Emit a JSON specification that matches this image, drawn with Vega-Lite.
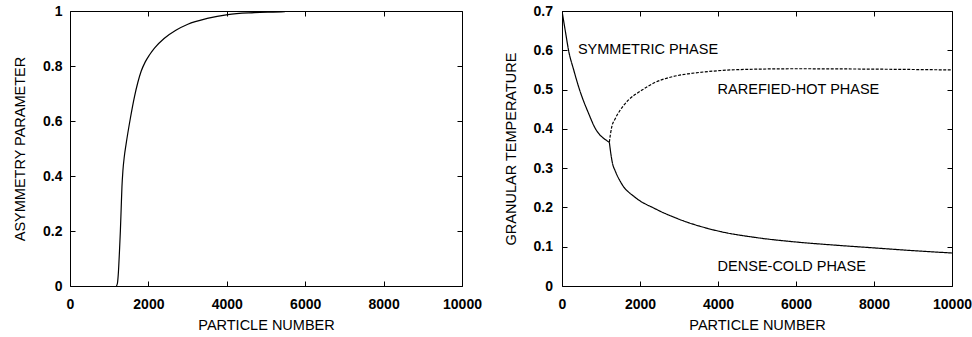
{
  "$schema": "https://vega.github.io/schema/vega-lite/v6.json",
  "padding": {"left": 12, "top": 4, "right": 0, "bottom": 0},
  "bounds": "flush",
  "spacing": 100,
  "background": "white",
  "config": {
    "view": {"stroke": null},
    "font": "Liberation Sans",
    "axis": {
      "grid": false,
      "domainColor": "black",
      "domainWidth": 1,
      "tickColor": "black",
      "tickSize": -5,
      "tickWidth": 1,
      "labelFont": "Liberation Sans",
      "labelFontSize": 14,
      "labelFontWeight": "bold",
      "labelColor": "black",
      "titleFont": "Liberation Sans",
      "titleFontSize": 14.5,
      "titleFontWeight": "normal",
      "titleColor": "black",
      "labelOverlap": false,
      "labelFlush": false,
      "labelBound": false
    }
  },
  "hconcat": [
    {
      "width": 392,
      "height": 275,
      "data": {"values": [
        {"n": 1183, "a": 0},
        {"n": 1210, "a": 0.01},
        {"n": 1235, "a": 0.05},
        {"n": 1260, "a": 0.12},
        {"n": 1285, "a": 0.2},
        {"n": 1305, "a": 0.28},
        {"n": 1325, "a": 0.36},
        {"n": 1350, "a": 0.42},
        {"n": 1385, "a": 0.47},
        {"n": 1430, "a": 0.515},
        {"n": 1540, "a": 0.61},
        {"n": 1644, "a": 0.688},
        {"n": 1730, "a": 0.74},
        {"n": 1813, "a": 0.78},
        {"n": 1920, "a": 0.815},
        {"n": 2026, "a": 0.84},
        {"n": 2155, "a": 0.865},
        {"n": 2400, "a": 0.9},
        {"n": 2700, "a": 0.93},
        {"n": 3006, "a": 0.952},
        {"n": 3500, "a": 0.973},
        {"n": 4026, "a": 0.987},
        {"n": 4700, "a": 0.994},
        {"n": 5470, "a": 0.998},
        {"n": 5600, "a": 1.0}
      ]},
      "layer": [
        {
          "mark": {"type": "line", "color": "black", "strokeWidth": 1.2, "clip": true, "interpolate": "monotone"},
          "encoding": {
            "x": {"field": "n", "type": "quantitative",
                  "scale": {"domain": [0, 10000], "nice": false, "zero": false},
                  "axis": {"orient": "bottom", "values": [0, 2000, 4000, 6000, 8000, 10000], "format": "d",
                           "labelPadding": 16, "title": "PARTICLE NUMBER", "titlePadding": 7}},
            "y": {"field": "a", "type": "quantitative",
                  "scale": {"domain": [0, 1], "nice": false},
                  "axis": {"orient": "left", "values": [0, 0.2, 0.4, 0.6, 0.8, 1], "format": "~g",
                           "labelPadding": 13, "title": "ASYMMETRY PARAMETER", "titlePadding": 15}}
          }
        },
        {
          "mark": {"type": "line", "opacity": 0},
          "encoding": {
            "x": {"field": "n", "type": "quantitative",
                  "axis": {"orient": "top", "values": [0, 2000, 4000, 6000, 8000, 10000], "labels": false, "title": null}},
            "y": {"field": "a", "type": "quantitative",
                  "axis": {"orient": "right", "values": [0, 0.2, 0.4, 0.6, 0.8, 1], "labels": false, "title": null}}
          }
        }
      ],
      "resolve": {"axis": {"x": "independent", "y": "independent"}}
    },
    {
      "width": 390,
      "height": 275,
      "layer": [
        {
          "data": {"values": [
            {"n": 0, "t": 0.7, "phase": "symmetric"},
            {"n": 50, "t": 0.67, "phase": "symmetric"},
            {"n": 100, "t": 0.64, "phase": "symmetric"},
            {"n": 168, "t": 0.6, "phase": "symmetric"},
            {"n": 300, "t": 0.55, "phase": "symmetric"},
            {"n": 449, "t": 0.5, "phase": "symmetric"},
            {"n": 700, "t": 0.435, "phase": "symmetric"},
            {"n": 832, "t": 0.405, "phase": "symmetric"},
            {"n": 950, "t": 0.387, "phase": "symmetric"},
            {"n": 1080, "t": 0.375, "phase": "symmetric"},
            {"n": 1214, "t": 0.366, "phase": "symmetric"},
            {"n": 1214, "t": 0.366, "phase": "cold"},
            {"n": 1258, "t": 0.333, "phase": "cold"},
            {"n": 1300, "t": 0.31, "phase": "cold"},
            {"n": 1360, "t": 0.294, "phase": "cold"},
            {"n": 1531, "t": 0.26, "phase": "cold"},
            {"n": 1870, "t": 0.226, "phase": "cold"},
            {"n": 2381, "t": 0.197, "phase": "cold"},
            {"n": 3000, "t": 0.17, "phase": "cold"},
            {"n": 4000, "t": 0.14, "phase": "cold"},
            {"n": 5000, "t": 0.123, "phase": "cold"},
            {"n": 6000, "t": 0.112, "phase": "cold"},
            {"n": 7000, "t": 0.104, "phase": "cold"},
            {"n": 8000, "t": 0.097, "phase": "cold"},
            {"n": 9000, "t": 0.09, "phase": "cold"},
            {"n": 10000, "t": 0.084, "phase": "cold"},
            {"n": 1214, "t": 0.366, "phase": "hot"},
            {"n": 1240, "t": 0.385, "phase": "hot"},
            {"n": 1276, "t": 0.405, "phase": "hot"},
            {"n": 1360, "t": 0.425, "phase": "hot"},
            {"n": 1487, "t": 0.447, "phase": "hot"},
            {"n": 1700, "t": 0.473, "phase": "hot"},
            {"n": 2041, "t": 0.498, "phase": "hot"},
            {"n": 2381, "t": 0.518, "phase": "hot"},
            {"n": 2800, "t": 0.532, "phase": "hot"},
            {"n": 3231, "t": 0.54, "phase": "hot"},
            {"n": 3656, "t": 0.545, "phase": "hot"},
            {"n": 4000, "t": 0.548, "phase": "hot"},
            {"n": 5000, "t": 0.552, "phase": "hot"},
            {"n": 6000, "t": 0.553, "phase": "hot"},
            {"n": 8000, "t": 0.552, "phase": "hot"},
            {"n": 10000, "t": 0.55, "phase": "hot"}
          ]},
          "mark": {"type": "line", "color": "black", "strokeWidth": 1.2, "clip": true, "interpolate": "monotone"},
          "encoding": {
            "x": {"field": "n", "type": "quantitative",
                  "scale": {"domain": [0, 10000], "nice": false, "zero": false},
                  "axis": {"orient": "bottom", "values": [0, 2000, 4000, 6000, 8000, 10000], "format": "d",
                           "labelPadding": 16, "title": "PARTICLE NUMBER", "titlePadding": 7}},
            "y": {"field": "t", "type": "quantitative",
                  "scale": {"domain": [0, 0.7], "nice": false},
                  "axis": {"orient": "left", "values": [0, 0.1, 0.2, 0.3, 0.4, 0.5, 0.6, 0.7], "format": "~g",
                           "labelPadding": 14.5, "title": "GRANULAR TEMPERATURE", "titlePadding": 15}},
            "detail": {"field": "phase"},
            "strokeDash": {"field": "phase", "type": "nominal",
                           "scale": {"domain": ["symmetric", "cold", "hot"], "range": [[1, 0], [1, 0], [3, 1.5]]},
                           "legend": null}
          }
        },
        {
          "data": {"values": [
            {"n": 408, "t": 0.602, "label": "SYMMETRIC PHASE"},
            {"n": 3990, "t": 0.5, "label": "RAREFIED-HOT PHASE"},
            {"n": 3990, "t": 0.048, "label": "DENSE-COLD PHASE"}
          ]},
          "mark": {"type": "text", "align": "left", "baseline": "middle", "font": "Liberation Sans", "fontSize": 14.5, "color": "black"},
          "encoding": {
            "x": {"field": "n", "type": "quantitative",
                  "axis": {"orient": "top", "values": [0, 2000, 4000, 6000, 8000, 10000], "labels": false, "title": null}},
            "y": {"field": "t", "type": "quantitative",
                  "axis": {"orient": "right", "values": [0, 0.1, 0.2, 0.3, 0.4, 0.5, 0.6, 0.7], "labels": false, "title": null}},
            "text": {"field": "label"}
          }
        }
      ],
      "resolve": {"axis": {"x": "independent", "y": "independent"}}
    }
  ]
}
